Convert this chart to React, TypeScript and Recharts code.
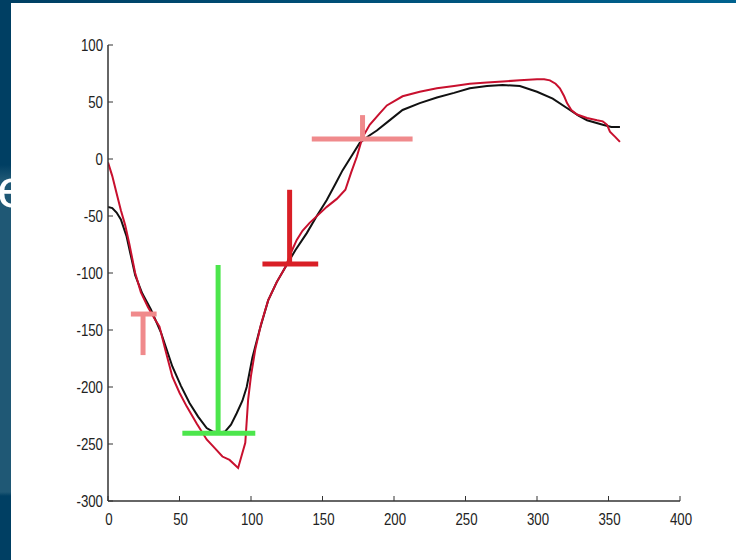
import { LineChart, Line, XAxis, YAxis, ReferenceLine } from "recharts";

// model curve (black)
const modelX = [0, 3, 6, 9, 13, 16, 19, 24, 30, 37, 45, 51, 57, 63, 69, 73, 78, 82, 86, 90, 94, 97, 101, 106, 112, 118, 124, 131, 139, 146, 153, 159, 164, 170, 176, 182, 188, 196, 206, 218, 230, 242, 253, 265, 276, 288, 300, 311, 323, 329, 335, 346, 352, 358];
const modelY = [-42, -43, -47, -53, -68, -85, -102, -118, -132, -152, -182, -199, -214, -226, -236, -239, -240, -239, -233, -223, -212, -200, -174, -150, -124, -108, -95, -80, -65, -50, -36, -22, -10, 2, 14, 20, 25, 33, 43, 49, 54, 58, 62, 64, 65, 64, 59, 53, 43, 38, 34, 30, 28, 28];

// measured curve (red)
const measX = [0, 3, 6, 9, 12, 15, 19, 23, 28, 33, 36, 40, 45, 50, 55, 62, 69, 75, 80, 85, 91, 96, 98, 100, 103, 107, 112, 118, 124, 128, 132, 136, 141, 147, 153, 160, 166, 170, 174, 178, 183, 190, 195, 206, 218, 230, 242, 253, 265, 276, 288, 300, 305, 309, 313, 316, 319, 321, 324, 328, 335, 342, 346, 349, 351, 355, 358];
const measY = [-3, -15, -30, -45, -58, -75, -100, -117, -130, -141, -147, -167, -191, -205, -217, -232, -246, -254, -261, -264, -271, -249, -211, -190, -167, -145, -124, -108, -95, -82, -71, -63, -56, -49, -42, -35, -27, -12, 2, 19, 30, 40, 47, 55, 59, 62, 64, 66, 67, 68, 69, 70, 70, 69, 66, 62, 55, 49, 43, 39, 36, 34, 33, 30, 24, 19, 15];

const xTicks = [0, 50, 100, 150, 200, 250, 300, 350, 400];
const yTicks = [-300, -250, -200, -150, -100, -50, 0, 50, 100];

// annotation marks: [x1, y1, x2, y2]
const pinkMarks = [
  [16, -136, 34, -136],
  [24.5, -136, 24.5, -172],
  [142.5, 17.5, 213, 17.5],
  [178, 38.5, 178, 17.5],
];
const greenMarks = [
  [77, -93, 77, -240.5],
  [52, -240.5, 103, -240.5],
];
const redMarks = [
  [127, -27, 127, -92],
  [108, -92, 147, -92],
];

const modelData = modelX.map((x, i) => ({ x, y: modelY[i] }));
const measData = measX.map((x, i) => ({ x, y: measY[i] }));

const FONT = "'Liberation Sans', Arial, sans-serif";

// narrow-looking labels: Liberation Sans squeezed horizontally
const Label = ({ x, y, anchor, value }: any) => (
  <text
    transform={`translate(${x},${y}) scale(0.78,1)`}
    textAnchor={anchor}
    fontSize={17}
    fontFamily={FONT}
    fill="#222"
  >
    {value}
  </text>
);

const YTick = (props: any) => {
  const { x, y, payload } = props;
  return (
    <g>
      <line x1={x + 5} x2={x + 10} y1={y} y2={y} stroke="#333" />
      <Label x={x} y={y + 6} anchor="end" value={payload.value} />
    </g>
  );
};

const XTick = (props: any) => {
  const { x, y, payload } = props;
  return (
    <g>
      <line x1={x} x2={x} y1={y - 6} y2={y - 11} stroke="#333" />
      <Label x={x + 1} y={y + 18} anchor="middle" value={payload.value} />
    </g>
  );
};

const segs = (marks: number[][], color: string) =>
  marks.map((m, i) => (
    <ReferenceLine
      key={color + i}
      segment={[
        { x: m[0], y: m[1] },
        { x: m[2], y: m[3] },
      ]}
      stroke={color}
      strokeWidth={5}
      ifOverflow="visible"
    />
  ));

export default function App() {
  return (
    <div
      style={{
        position: "absolute",
        left: 0,
        top: 0,
        width: 736,
        height: 560,
        background: "#fff",
        overflow: "hidden",
      }}
    >
      <div
        style={{
          position: "absolute",
          left: 0,
          top: 0,
          width: 736,
          height: 3,
          background: "linear-gradient(to right, #003f63, #00628f)",
        }}
      />
      <div
        style={{
          position: "absolute",
          left: 0,
          top: 0,
          width: 11,
          height: 560,
          overflow: "hidden",
          background:
            "linear-gradient(to bottom, #003f63 0px, #003f63 165px, #1f5875 180px, #1f5875 492px, #003f63 496px, #003f63 560px)",
        }}
      >
        <span
          style={{
            position: "absolute",
            left: -3,
            top: 161,
            fontSize: 54,
            lineHeight: 1,
            fontFamily: "'Liberation Sans', sans-serif",
            color: "#fff",
          }}
        >
          e
        </span>
      </div>
      <div style={{ position: "absolute", left: 0, top: 0 }}>
        <LineChart width={736} height={560} margin={{ top: 45, right: 56, bottom: 29, left: 48 }}>
          <XAxis
            type="number"
            dataKey="x"
            domain={[0, 400]}
            ticks={xTicks}
            height={30}
            tickSize={0}
            tickMargin={6}
            tick={<XTick />}
            axisLine={{ stroke: "#333", strokeWidth: 1.5 }}
            allowDataOverflow
          />
          <YAxis
            type="number"
            dataKey="y"
            domain={[-300, 100]}
            ticks={yTicks}
            width={60}
            tickSize={0}
            tickMargin={5}
            tick={<YTick />}
            axisLine={{ stroke: "#333", strokeWidth: 1.5 }}
            allowDataOverflow
          />
          <Line
            data={modelData}
            dataKey="y"
            type="linear"
            stroke="#111"
            strokeWidth={2}
            dot={false}
            isAnimationActive={false}
          />
          <Line
            data={measData}
            dataKey="y"
            type="linear"
            stroke="#c8102e"
            strokeWidth={2}
            dot={false}
            isAnimationActive={false}
          />
          {segs(pinkMarks, "#f08a8c")}
          {segs(greenMarks, "#4ce64c")}
          {segs(redMarks, "#d91f26")}
        </LineChart>
      </div>
    </div>
  );
}
